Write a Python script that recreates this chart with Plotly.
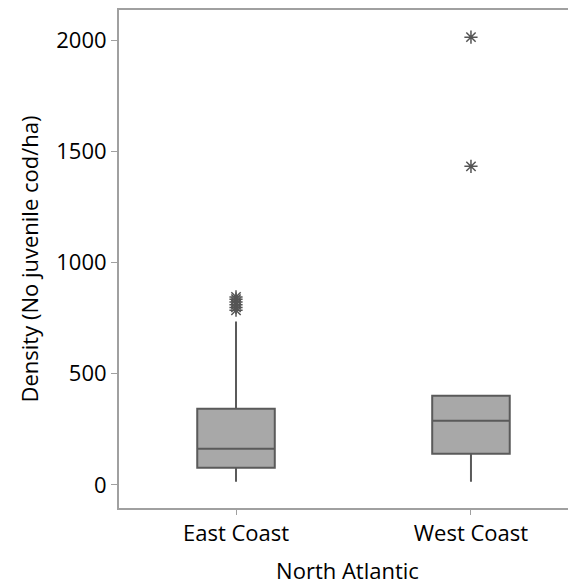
import plotly.graph_objects as go

categories = ["East Coast", "West Coast"]
q1 = [77, 140]
median = [162, 288]
q3 = [342, 401]
lowerfence = [14, 14]
upperfence = [734, 401]
east_outliers = [845, 835, 822, 810, 798, 785]
west_outliers = [2013, 1432]

fig = go.Figure()
fig.add_trace(go.Box(
    x=categories, q1=q1, median=median, q3=q3,
    lowerfence=lowerfence, upperfence=upperfence,
    fillcolor="#a8a8a8", line=dict(color="#5a5a5a", width=2),
    whiskerwidth=0,
    width=0.33, boxpoints=False, showlegend=False, hoverinfo="skip",
))
fig.add_trace(go.Scatter(
    x=[categories[0]] * len(east_outliers) + [categories[1]] * len(west_outliers),
    y=east_outliers + west_outliers,
    mode="markers",
    marker=dict(symbol="asterisk-open", size=11, color="#555555",
                line=dict(color="#555555", width=1.5)),
    showlegend=False,
))

font = dict(family="Open Sans, Noto Sans, sans-serif", size=22, color="#000000")
fig.update_layout(
    width=568, height=577,
    margin=dict(l=111, r=0, t=2, b=77),
    paper_bgcolor="white", plot_bgcolor="white",
    font=font,
    xaxis=dict(
        range=[-0.498, 1.447], showline=True, mirror=True, linecolor="#a0a0a0",
        linewidth=2, ticks="outside", ticklen=5, tickcolor="#a0a0a0",
        showgrid=False, zeroline=False,
        title=dict(text="North Atlantic", font=font, standoff=18),
    ),
    yaxis=dict(
        range=[-104, 2135], showline=True, linecolor="#a0a0a0", linewidth=2,
        ticks="outside", ticklen=6, tickcolor="#a0a0a0",
        tickvals=[0, 500, 1000, 1500, 2000],
        showgrid=False, zeroline=False,
        title=dict(text="Density (No juvenile cod/ha)", font=font, standoff=12),
    ),
)
fig.write_html("out.html")
